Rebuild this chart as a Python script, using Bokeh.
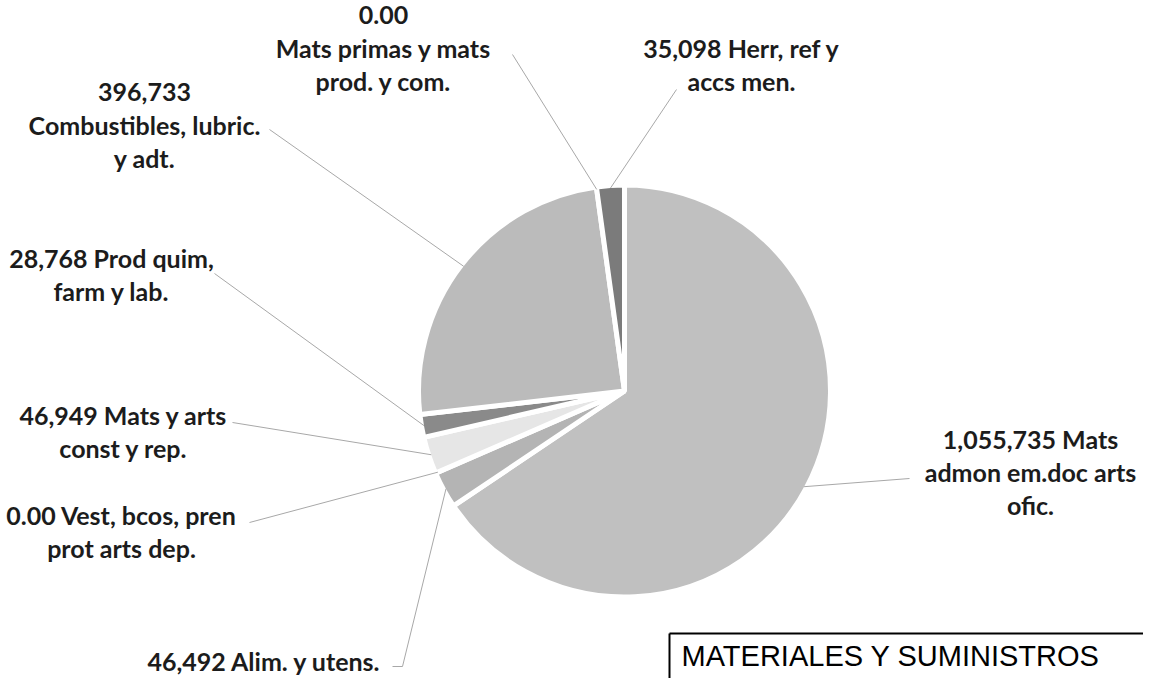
import math
from bokeh.plotting import figure
from bokeh.models import Range1d, ColumnDataSource
from bokeh.embed import file_html
from bokeh.resources import INLINE
from bokeh.core.properties import value

# ---------------- data ----------------
categories = [
    "Mats\nadmon em.doc arts\nofic.",
    "Alim. y utens.",
    "Vest, bcos, pren\nprot arts dep.",
    "Mats y arts\nconst y rep.",
    "Prod quim,\nfarm y lab.",
    "\nCombustibles, lubric.\ny adt.",
    "\nMats primas y mats\nprod. y com.",
    "Herr, ref y\naccs men.",
]
values = [1055735, 46492, 0, 46949, 28768, 396733, 0, 35098]
colors = ["#c0c0c0", "#b4b4b4", "#cfcfcf", "#e6e6e6", "#8a8a8a", "#bbbbbb", "#9a9a9a", "#7b7b7b"]
title_text = "MATERIALES Y SUMINISTROS"

# ---------------- layout (screen px) ----------------
W, H = 1143, 678
CX, CY, R = 632, 398.5, 203.5
label_pos = [(1038, 446), (272, 668), (129, 522), (131, 422), (119, 265), (152, 99), (391, 22), (749, 55)]
leader_anchor = [
    [(917, 486)],
    [(400, 674), (410, 674)],
    [(257, 530)],
    [(240, 430)],
    [(222, 281)],
    [(277, 137)],
    [(520, 62)],
    [(684, 97)],
]
LINE_H = 33

p = figure(width=W, height=H, x_range=Range1d(8, 8 + W), y_range=Range1d(-(8 + H), -8),
           output_backend="svg", toolbar_location=None, min_border=0,
           x_axis_location=None, y_axis_location=None)
p.grid.visible = False
p.outline_line_color = None
p.background_fill_color = "white"
p.border_fill_color = "white"

total = float(sum(values))
cum = 0.0
wx, wy, ws, we, wc = [], [], [], [], []
mids = []
for v, c in zip(values, colors):
    a0 = cum / total * 360.0
    cum += v
    a1 = cum / total * 360.0
    mids.append((a0 + a1) / 2.0)
    if v > 0:
        wx.append(CX); wy.append(-CY)
        ws.append(math.radians(90 - a1)); we.append(math.radians(90 - a0)); wc.append(c)

src = ColumnDataSource(dict(x=wx, y=wy, s=ws, e=we, c=wc))
p.wedge(x="x", y="y", radius=R + 2.5, start_angle="s", end_angle="e", direction="anticlock",
        fill_color="c", line_color="white", line_width=5, source=src)

# leader lines
lxs, lys = [], []
for m, anc in zip(mids, leader_anchor):
    px = CX + R * math.sin(math.radians(m))
    py = CY - R * math.cos(math.radians(m))
    pts = list(anc) + [(px, py)]
    lxs.append([q[0] for q in pts])
    lys.append([-q[1] for q in pts])
p.multi_line(xs=lxs, ys=lys, line_color="#a8a8a8", line_width=1)

# labels
tx, ty, tt = [], [], []
for v, name, (lx, ly) in zip(values, categories, label_pos):
    vs = f"{v:,.0f}" if v else "0.00"
    full = vs + " " + name
    lines = [s.strip() for s in full.split("\n")]
    for i, s in enumerate(lines):
        tx.append(lx); ty.append(-(ly + i * LINE_H)); tt.append(s)
p.text(x=tx, y=ty, text=tt, text_align="center", text_baseline="middle",
       text_font=value("Lato"), text_font_style="bold", text_font_size="25px", text_color="#1c1c1c")

# boxed title at bottom right
p.line(x=[677, 8 + W], y=[-641, -641], line_color="black", line_width=2)
p.line(x=[677, 677], y=[-641, -(8 + H)], line_color="black", line_width=2)
p.text(x=[689], y=[-663], text=[title_text], text_align="left", text_baseline="middle",
       text_font=value("Liberation Sans"), text_font_size="29px", text_color="black")

open("out.html", "w").write(file_html(p, INLINE))
